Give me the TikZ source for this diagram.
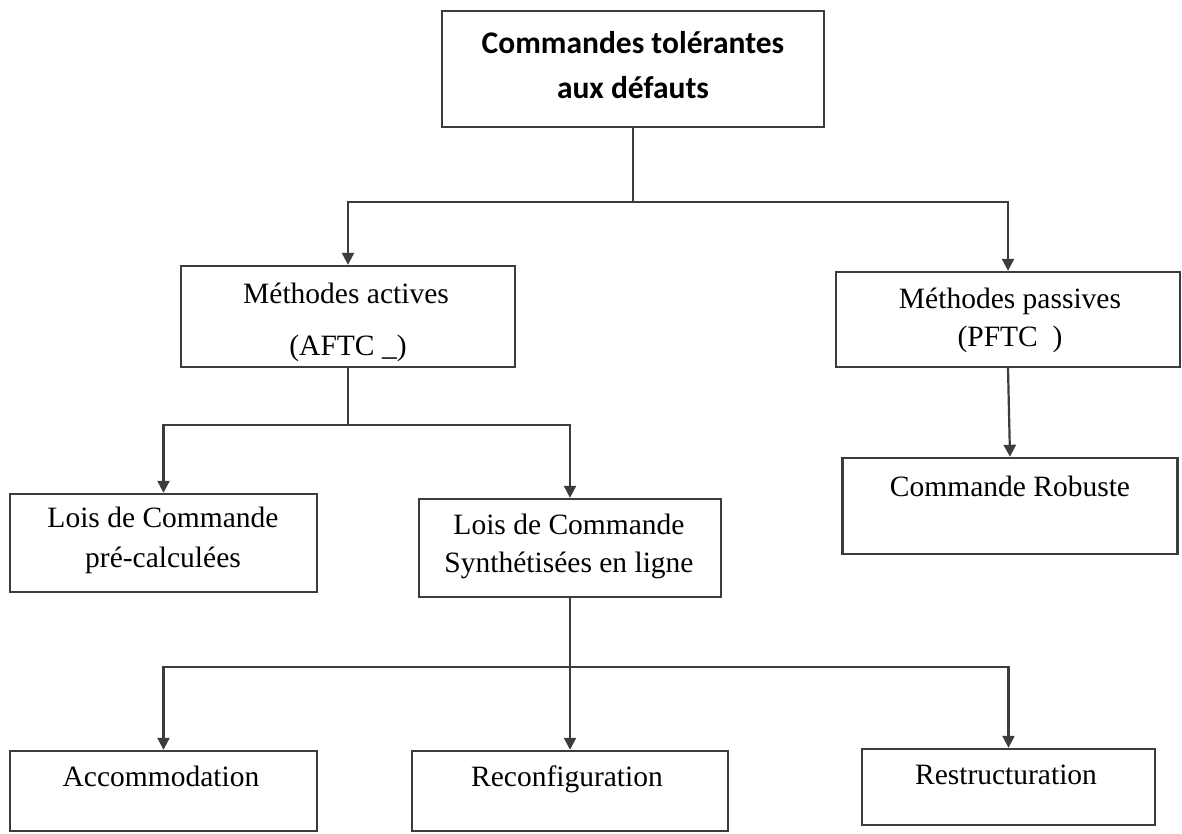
\documentclass[tikz,border=0pt]{standalone}
\usepackage{fontspec}
\setmainfont{Liberation Serif}
\newfontfamily\calfont{Carlito}
\usetikzlibrary{arrows.meta}
\definecolor{linegray}{HTML}{3C3C3C}
\begin{document}
\begin{tikzpicture}[x=1pt,y=-1pt,
  box/.style={draw=linegray, line width=2.4pt, inner sep=0pt, rectangle},
  txt/.style={inner sep=0pt, yshift=-6pt, font=\fontsize{29.5}{35}\selectfont, text height=0.68em, text depth=0.2em},
  ttl/.style={inner sep=0pt, yshift=-6pt, font=\calfont\bfseries\fontsize{31.5}{38}\selectfont, text height=0.68em, text depth=0.2em},
  conn/.style={draw=linegray, line width=2.2pt},
  arr/.style={conn, -{Triangle[width=12pt,length=12pt]}}]
\useasboundingbox (0,0) rectangle (1182,833);
% boxes
\node[box, minimum width=382pt, minimum height=116pt] (top) at (633,69) {};
\node[box, minimum width=334pt, minimum height=101pt] (act) at (348,316.5) {};
\node[box, minimum width=344pt, minimum height=95pt]  (pas) at (1008,319.5) {};
\node[box, minimum width=335pt, minimum height=96pt]  (rob) at (1010,506) {};
\node[box, minimum width=307pt, minimum height=98pt]  (pre) at (163.5,543) {};
\node[box, minimum width=302pt, minimum height=98pt]  (syn) at (570,548) {};
\node[box, minimum width=307pt, minimum height=80pt]  (acc) at (163.5,791) {};
\node[box, minimum width=316pt, minimum height=80pt]  (rec) at (570,791) {};
\node[box, minimum width=293pt, minimum height=76pt]  (res) at (1008.5,787) {};
% texts
\node[ttl] (top1) at (633,45) {Commandes tolérantes};
\node[ttl] (top2) at (633,90) {aux défauts};
\node[txt] (act1) at (346,295) {Méthodes actives};
\node[txt] (act2) at (348,347) {(AFTC \_)};
\node[txt] (pas1) at (1010,300) {Méthodes passives};
\node[txt] (pas2) at (1010,338) {(PFTC\ \ )};
\node[txt] (rob1) at (1010,488) {Commande Robuste};
\node[txt] (pre1) at (163,519) {Lois de Commande};
\node[txt] (pre2) at (163,559) {pré-calculées};
\node[txt] (syn1) at (569,526) {Lois de Commande};
\node[txt] (syn2) at (569,564) {Synthétisées en ligne};
\node[txt] (acc1) at (161,778) {Accommodation};
\node[txt] (rec1) at (567,778) {Reconfiguration};
\node[txt] (res1) at (1006,776) {Restructuration};
% junctions
\coordinate (j1) at (633,202);
\coordinate (j2) at (348,425);
\coordinate (j3) at (570,667);
% connectors
\draw[conn] (top.south) -- (j1);
\draw[arr] (j1) -| (act.north);
\draw[arr] (j1) -| (pas.north);
\draw[conn] (act.south) -- (j2);
\draw[arr] (j2) -| (pre.north);
\draw[arr] (j2) -| (syn.north);
\draw[arr] (pas.south) -- (rob.north);
\draw[arr] (syn.south) -- (rec.north);
\draw[arr] (j3) -| (acc.north);
\draw[arr] (j3) -| (res.north);
\end{tikzpicture}
\end{document}
